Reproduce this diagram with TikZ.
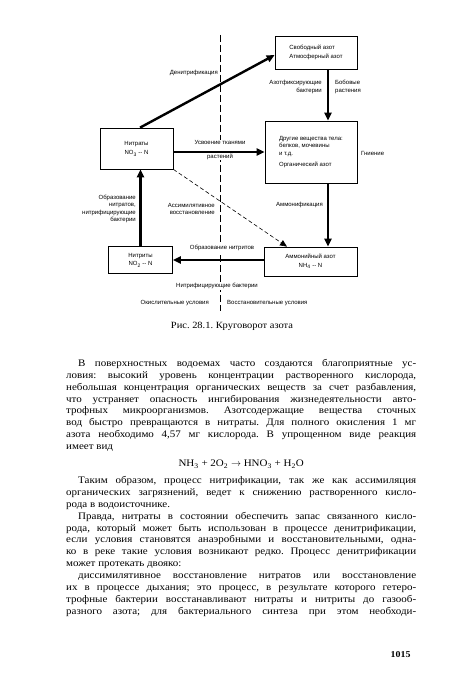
\documentclass[tikz,border=0pt]{standalone}
\usepackage{fontspec}
\setmainfont{Liberation Serif}[FakeStretch=1.1]
\newfontfamily\diagfont{Liberation Sans}
\usetikzlibrary{arrows.meta}

\newcommand{\txtline}[1]{\makebox[350pt][s]{#1}\\}

\begin{document}
\frenchspacing
\begin{tikzpicture}[x=1pt, y=-1pt]

  % Define styles
  \tikzstyle{box} = [rectangle, draw, line width=0.7pt, inner sep=2pt, align=left, font=\diagfont\fontsize{6}{7.5}\selectfont]
  \tikzstyle{note} = [inner sep=1pt, font=\diagfont\fontsize{6}{7.5}\selectfont]
  \tikzstyle{flow} = [draw, line width=2.4pt, -{Triangle[length=8pt, width=7pt]}]
  \tikzstyle{dash_flow} = [draw, line width=0.6pt, dash pattern=on 4pt off 2.5pt, -{Triangle[length=7pt, width=6pt]}]
  \tikzstyle{divider} = [draw, line width=0.6pt, dash pattern=on 7pt off 3pt]

  \useasboundingbox (0,0) rectangle (450,679);

  % Divider between oxidising and reducing sides
  \draw[divider] (220,35) -- (220,311);

  % Boxes
  \node[box, minimum width=82pt, minimum height=33pt] (free) at (316,52.5) {Свободный азот\\[2pt]Атмосферный азот};
  \node[box, align=center, minimum width=73pt, minimum height=41pt] (nitra) at (136.5,148.5) {Нитраты\\[2pt]NO\textsubscript{3} -- N};
  \node[box, minimum width=92pt, minimum height=62pt] (organ) at (311,152) {Другие вещества тела:\\белков, мочевины\\и т.д.\\[4pt]Органический азот};
  \node[box, align=center, minimum width=93pt, minimum height=29pt] (ammon) at (310.5,261.5) {Аммонийный азот\\[1pt]NH\textsubscript{4} -- N};
  \node[box, align=center, minimum width=64pt, minimum height=27pt] (nitri) at (140.5,260) {Нитриты\\[1pt]NO\textsubscript{2} -- N};

  % Labels
  \node[note, anchor=east] (denit) at (219,73) {Денитрификация};
  \node[note, anchor=east, align=right] (fixb) at (323,87) {Азотфиксирующие\\бактерии};
  \node[note, anchor=west, align=left] (legum) at (334,87) {Бобовые\\растения};
  \node[note, fill=white, align=center] (uptake) at (220,150) {Усвоение тканями\\[6pt]растений};
  \node[note, anchor=west] (decay) at (360,153) {Гниение};
  \node[note, anchor=east] (ammonif) at (324,205) {Аммонификация};
  \node[note, anchor=east, align=right] (assim) at (216,209) {Ассимилятивное\\восстановление};
  \node[note, anchor=east, align=right] (nitrif) at (137,209) {Образование\\нитратов,\\нитрифицирующие\\бактерии};
  \node[note, fill=white] (nitrit) at (222,248) {Образование нитритов};
  \node[note, fill=white] (nbact) at (217,286) {Нитрифицирующие бактерии};
  \node[note, anchor=east] (oxid) at (210,303) {Окислительные условия};
  \node[note, anchor=west] (reduc) at (226,303) {Восстановительные условия};

  % Connections
  \draw[flow] ([xshift=3.5pt]nitra.north) -- ([yshift=-2.5pt]free.west);
  \draw[flow] ([xshift=12pt]free.south) -- ([xshift=17pt]organ.north);
  \draw[flow] ([yshift=-3.5pt]nitra.east) -- (organ.west);
  \draw[flow] ([xshift=17pt]organ.south) -- ([xshift=17.5pt]ammon.north);
  \draw[flow] (ammon.west |- nitri.east) -- (nitri.east);
  \draw[flow] (nitri.north) -- (nitri.north |- nitra.south);
  \draw[dash_flow] (nitra.south east) -- ([xshift=-23.5pt]ammon.north);

  % Caption
  \node[font=\fontsize{9.5}{11}\selectfont] (caption) at (232,326) {Рис. 28.1. Круговорот азота};

  % Body text
  \node[anchor=north west, inner sep=0pt, align=left, font=\fontsize{10}{11.9}\selectfont] (body) at (66,359) {%
    \txtline{\hspace*{12pt}В поверхностных водоемах часто создаются благоприятные ус-}
    \txtline{ловия: высокий уровень концентрации растворенного кислорода,}
    \txtline{небольшая концентрация органических веществ за счет разбавления,}
    \txtline{что устраняет опасность ингибирования жизнедеятельности авто-}
    \txtline{трофных микроорганизмов. Азотсодержащие вещества сточных}
    \txtline{вод быстро превращаются в нитраты. Для полного окисления 1~мг}
    \txtline{азота необходимо 4,57 мг кислорода. В упрощенном виде реакция}
    имеет вид\\[5pt]
    \makebox[350pt][c]{NH\textsubscript{3} + 2O\textsubscript{2} $\rightarrow$ HNO\textsubscript{3} + H\textsubscript{2}O}\\[5pt]
    \txtline{\hspace*{12pt}Таким образом, процесс нитрификации, так же как ассимиляция}
    \txtline{органических загрязнений, ведет к снижению растворенного кисло-}
    рода в водоисточнике.\\
    \txtline{\hspace*{12pt}Правда, нитраты в состоянии обеспечить запас связанного кисло-}
    \txtline{рода, который может быть использован в процессе денитрификации,}
    \txtline{если условия становятся анаэробными и восстановительными, одна-}
    \txtline{ко в реке такие условия возникают редко. Процесс денитрификации}
    может протекать двояко:\\
    \txtline{\hspace*{12pt}диссимилятивное восстановление нитратов или восстановление}
    \txtline{их в процессе дыхания; это процесс, в результате которого гетеро-}
    \txtline{трофные бактерии восстанавливают нитраты и нитриты до газооб-}
    \makebox[350pt][s]{разного азота; для бактериального синтеза при этом необходи-}};

  % Page number
  \node[anchor=east, font=\bfseries\fontsize{9}{11}\selectfont] (page) at (414,655) {1015};

\end{tikzpicture}
\end{document}
